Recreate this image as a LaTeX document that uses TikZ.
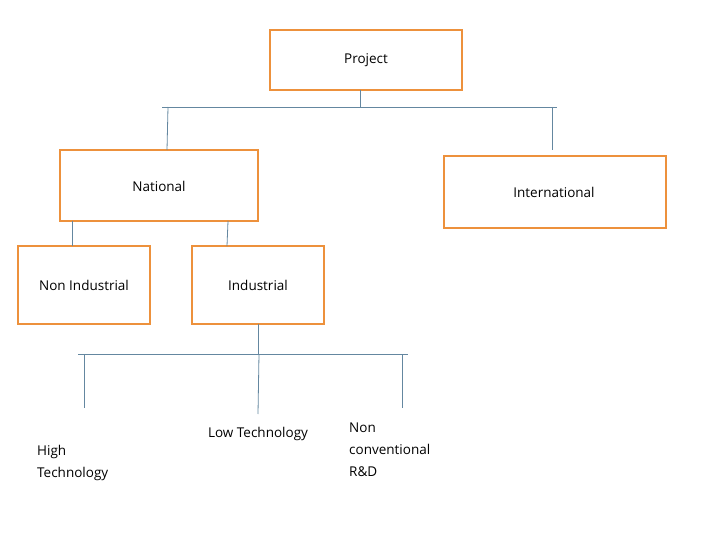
\documentclass[tikz,border=0pt]{standalone}
\usepackage{fontspec}
\setmainfont{Open Sans}
\begin{document}
\begin{tikzpicture}[x=1pt,y=-1pt,
  box/.style={draw={rgb,255:red,237;green,145;blue,60},line width=2.2pt},
  conn/.style={draw={rgb,255:red,100;green,135;blue,160},line width=0.8pt},
  lbl/.style={font=\fontsize{13.5}{22}\selectfont,align=left,inner sep=0pt}]
\useasboundingbox (0,0) rectangle (720,540);
\draw[box] (270,30) rectangle (462,90); \node[lbl] (project) at (366,60) {Project};
\draw[box] (60,150) rectangle (258,221); \node[lbl] (national) at (159,186) {National};
\draw[box] (444,156) rectangle (666,228); \node[lbl] (intl) at (554,192) {International};
\draw[box] (18,246) rectangle (150,324); \node[lbl] (nonind) at (84,285) {Non Industrial};
\draw[box] (192,246) rectangle (324,324); \node[lbl] (ind) at (258,285) {Industrial};
\node[lbl,anchor=west] (high) at (37,463) {High\\Technology};
\node[lbl] (low) at (258,434) {Low Technology};
\node[lbl,anchor=west] (nonconv) at (349,450) {Non\\conventional\\R\&D};
\coordinate (p0) at (360,90); \coordinate (p1) at (360,107);
\coordinate (h1) at (162,107); \coordinate (h2) at (557,107);
\coordinate (d1) at (168,107); \coordinate (d1b) at (167,150);
\coordinate (d2) at (552,107); \coordinate (d2b) at (552,150);
\coordinate (n1) at (72,221); \coordinate (n1b) at (72,246);
\coordinate (n2) at (228,221); \coordinate (n2b) at (227,246);
\coordinate (i0) at (258,324); \coordinate (i1) at (258,354);
\coordinate (g1) at (78,354); \coordinate (g2) at (408,354);
\coordinate (e1) at (84,354); \coordinate (e1b) at (84,408);
\coordinate (e2) at (259,354); \coordinate (e2b) at (258,414);
\coordinate (e3) at (402,354); \coordinate (e3b) at (402,408);
\draw[conn] (p0)--(p1); \draw[conn] (h1)--(h2);
\draw[conn] (d1)--(d1b); \draw[conn] (d2)--(d2b);
\draw[conn] (n1)--(n1b); \draw[conn] (n2)--(n2b);
\draw[conn] (i0)--(i1); \draw[conn] (g1)--(g2);
\draw[conn] (e1)--(e1b); \draw[conn] (e2)--(e2b); \draw[conn] (e3)--(e3b);
\end{tikzpicture}
\end{document}
